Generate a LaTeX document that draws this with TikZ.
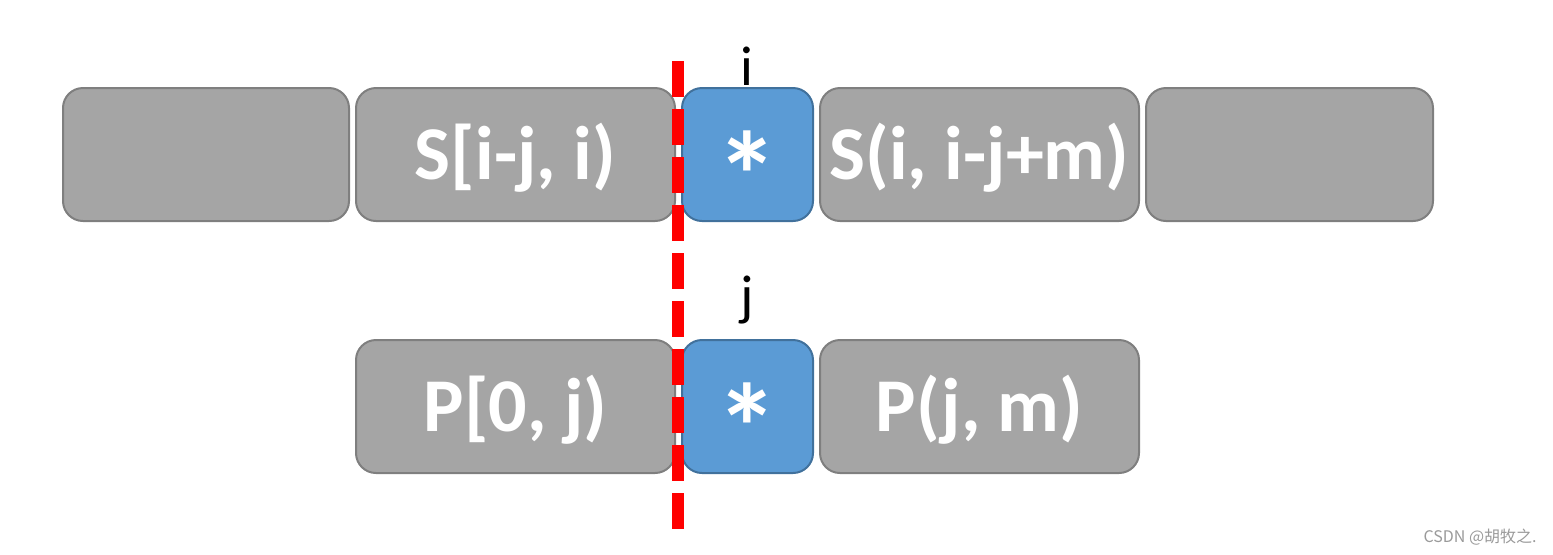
\documentclass[tikz,border=0pt]{standalone}
\usepackage{xcolor}
\usepackage{fontspec}
\setmainfont{Carlito}
\newfontfamily\cjkfont{Noto Sans CJK SC}
\usepackage{tikz}

\definecolor{boxgray}{HTML}{A5A5A5}
\definecolor{boxgrayline}{HTML}{7F7F7F}
\definecolor{boxblue}{HTML}{5B9BD5}
\definecolor{boxblueline}{HTML}{41719C}
\definecolor{markgray}{HTML}{9A9A9A}

\begin{document}
\begin{tikzpicture}[x=0.5pt,y=-0.5pt,
  cell/.style={rounded corners=10pt, line width=1pt, inner sep=0pt,
    minimum height=66.5pt, text=white, font=\bfseries\fontsize{38}{40}\selectfont,
    text height=24.5pt, text depth=0pt},
  graybox/.style={cell, fill=boxgray, draw=boxgrayline},
  bluebox/.style={cell, fill=boxblue, draw=boxblueline, minimum width=65.5pt,
    font=\bfseries\fontsize{62}{64}\selectfont, text height=65pt, text depth=-5pt},
  idxlabel/.style={anchor=base, inner sep=0pt, font=\fontsize{28}{30}\selectfont},
  cutline/.style={red, line width=6pt, dash pattern=on 18pt off 6pt}]
\useasboundingbox (0,0) rectangle (1553,554);

% text row
\node[graybox, minimum width=143pt] (sleft) at (206,154.5) {};
\node[graybox, minimum width=159.5pt] (spre) at (515.5,154.5) {S[i-j, i)};
\node[bluebox] (scur) at (747.5,154.5) {*};
\node[graybox, minimum width=159.5pt] (spost) at (979.5,154.5) {S(i, i-j+m)};
\node[graybox, minimum width=143.5pt] (sright) at (1289.5,154.5) {};

% pattern row
\node[graybox, minimum width=159.5pt] (ppre) at (515.5,406.5) {P[0, j)};
\node[bluebox] (pcur) at (747.5,406.5) {*};
\node[graybox, minimum width=159.5pt] (ppost) at (979.5,406.5) {P(j, m)};

\node[idxlabel] (ilabel) at (747,85) {i};
\node[idxlabel] (jlabel) at (747,314) {j};

% mismatch cut
\coordinate (cuttop) at (678,61);
\coordinate (cutbot) at (678,529);
\draw[cutline] (cuttop) -- (cutbot);

\node[anchor=base east, inner sep=0pt, text=markgray, font=\cjkfont\fontsize{8}{9}\selectfont]
  (mark) at (1537,542) {CSDN @胡牧之.};
\end{tikzpicture}
\end{document}
